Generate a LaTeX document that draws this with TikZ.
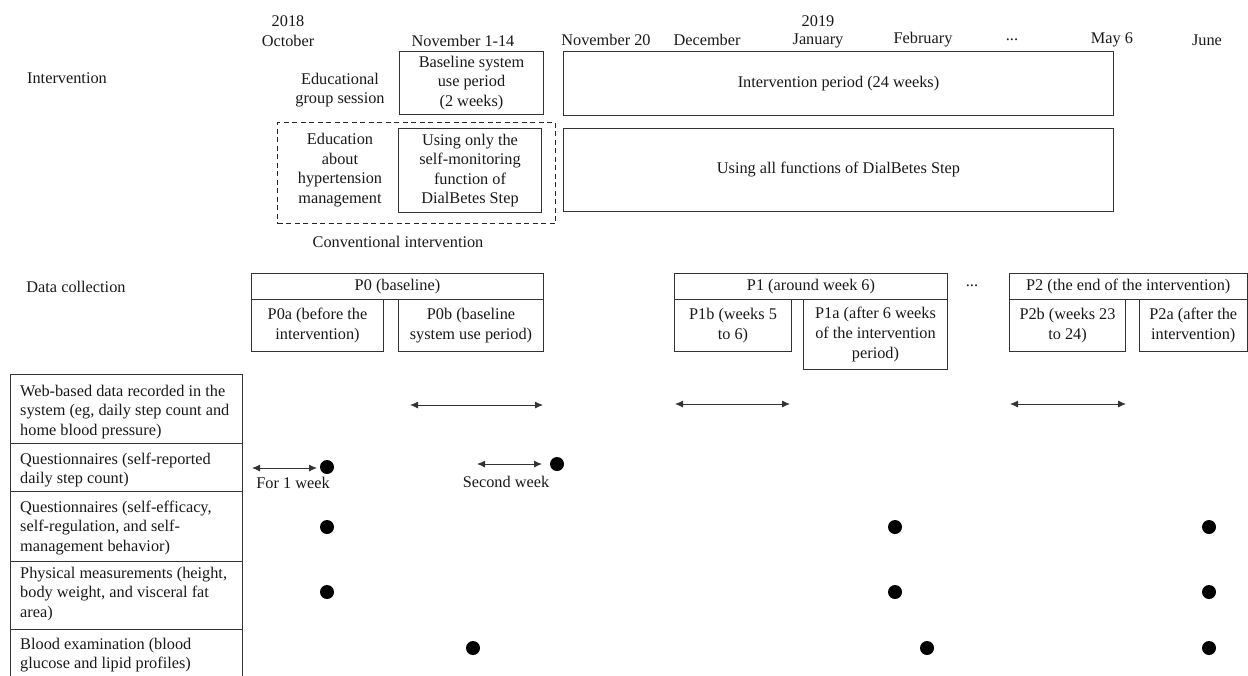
\documentclass[tikz,border=0pt]{standalone}
\usepackage{fontspec}
\setmainfont{Liberation Serif}
\usetikzlibrary{arrows.meta}
\begin{document}
\begin{tikzpicture}[x=1pt,y=-1pt,
  every node/.style={font=\fontsize{16.3}{19.6}\selectfont, text=black!90, inner sep=0pt},
  box/.style={draw=black!80, line width=1pt, align=center, anchor=north west},
  dbox/.style={draw=black!85, line width=1pt, dashed, dash pattern=on 5pt off 3.5pt, anchor=north west},
  rowbox/.style={draw=black!80, line width=1pt, anchor=north west, minimum width=232pt},
  rowtext/.style={align=left, anchor=west},
  lbl/.style={align=center},
  dot/.style={circle, fill=black, minimum size=14pt, inner sep=0pt},
  span/.style={{Latex[length=8pt,width=7pt]}-{Latex[length=8pt,width=7pt]}, line width=0.9pt, draw=black!80}
]
\useasboundingbox (0,0) rectangle (1248,675);

% header
\node[lbl] (y2018) at (288,21) {2018};
\node[lbl] (oct) at (288,41) {October};
\node[lbl] (nov) at (463,41) {November 1-14};
\node[lbl] (nov20) at (606,40) {November 20};
\node[lbl] (dec) at (707,40) {December};
\node[lbl] (y2019) at (818,21) {2019};
\node[lbl] (jan) at (818,41) {January};
\node[lbl] (feb) at (923,40) {February};
\node[lbl] (hdots) at (1012,40) {...};
\node[lbl] (may) at (1112,40) {May 6};
\node[lbl] (jun) at (1207,40) {June};

% intervention
\node[lbl] (interv) at (67,78) {Intervention};
\node[lbl] (edgroup) at (340,90) {Educational\\group session};
\node[box, minimum width=144pt, minimum height=63pt] (baseline) at (399,51) {Baseline system\\use period\\(2 weeks)};
\node[box, minimum width=550pt, minimum height=64pt] (intper) at (563,51) {Intervention period (24 weeks)};
\node[dbox, minimum width=278pt, minimum height=101pt] (conv) at (277,122) {};
\node[lbl] (eduhyp) at (340,170) {Education\\about\\hypertension\\management};
\node[box, minimum width=143pt, minimum height=84pt] (selfmon) at (398,128) {Using only the\\self-monitoring\\function of\\DialBetes Step};
\node[box, minimum width=550pt, minimum height=83pt] (allfun) at (563,128) {Using all functions of DialBetes Step};
\node[lbl] (convlbl) at (398,242) {Conventional intervention};

% data collection
\node[lbl] (datacol) at (76,287) {Data collection};
\node[box, minimum width=292pt, minimum height=26pt] (p0) at (251,273) {P0 (baseline)};
\node[box, minimum width=132pt, minimum height=52pt] (p0a) at (251,299) {P0a (before the\\intervention)};
\node[box, minimum width=145pt, minimum height=52pt] (p0b) at (398,299) {P0b (baseline\\system use period)};
\node[box, minimum width=273pt, minimum height=26pt] (p1) at (674,273) {P1 (around week 6)};
\node[box, minimum width=117pt, minimum height=52pt] (p1b) at (674,299) {P1b (weeks 5\\to 6)};
\node[box, minimum width=144pt, minimum height=70pt] (p1a) at (803,299) {P1a (after 6 weeks\\of the intervention\\period)};
\node[lbl] (mdots) at (972,286) {...};
\node[box, minimum width=237.5pt, minimum height=26pt] (p2) at (1009,273) {P2 (the end of the intervention)};
\node[box, minimum width=116pt, minimum height=52pt] (p2b) at (1009,299) {P2b (weeks 23\\to 24)};
\node[box, minimum width=107.5pt, minimum height=52pt] (p2a) at (1139,299) {P2a (after the\\intervention)};

% left table
\node[rowbox, minimum height=69pt] (r1) at (10,374) {};
\node[rowbox, minimum height=48pt] (r2) at (10,443) {};
\node[rowbox, minimum height=70pt] (r3) at (10,491) {};
\node[rowbox, minimum height=68pt] (r4) at (10,561) {};
\node[rowbox, minimum height=50pt] (r5) at (10,629) {};
\node[rowtext] (t1) at (20,412) {Web-based data recorded in the\\system (eg, daily step count and\\home blood pressure)};
\node[rowtext] (t2) at (20,470) {Questionnaires (self-reported\\daily step count)};
\node[rowtext] (t3) at (20,528) {Questionnaires (self-efficacy,\\self-regulation, and self-\\management behavior)};
\node[rowtext] (t4) at (20,594) {Physical measurements (height,\\body weight, and visceral fat\\area)};
\node[rowtext] (t5) at (20,655) {Blood examination (blood\\glucose and lipid profiles)};

% spans
\coordinate (a1s) at (410,405); \coordinate (a1e) at (543,405);
\coordinate (a2s) at (675,404); \coordinate (a2e) at (790,404);
\coordinate (a3s) at (1010,404); \coordinate (a3e) at (1126,404);
\coordinate (a4s) at (252,468); \coordinate (a4e) at (317,468);
\coordinate (a5s) at (477,464); \coordinate (a5e) at (542,464);
\draw[span] (a1s) -- (a1e);
\draw[span] (a2s) -- (a2e);
\draw[span] (a3s) -- (a3e);
\draw[span] (a4s) -- (a4e);
\draw[span] (a5s) -- (a5e);
\node[lbl] (week1) at (293,483) {For 1 week};
\node[lbl] (week2) at (506,482) {Second week};

% dots
\node[dot] (d1) at (327,467) {};
\node[dot] (d2) at (557,464) {};
\node[dot] (d3) at (327,527) {};
\node[dot] (d4) at (895,527) {};
\node[dot] (d5) at (1209,527) {};
\node[dot] (d6) at (327,592) {};
\node[dot] (d7) at (895,592) {};
\node[dot] (d8) at (1209,592) {};
\node[dot] (d9) at (473,648) {};
\node[dot] (d10) at (927,648) {};
\node[dot] (d11) at (1209,648) {};
\end{tikzpicture}
\end{document}
